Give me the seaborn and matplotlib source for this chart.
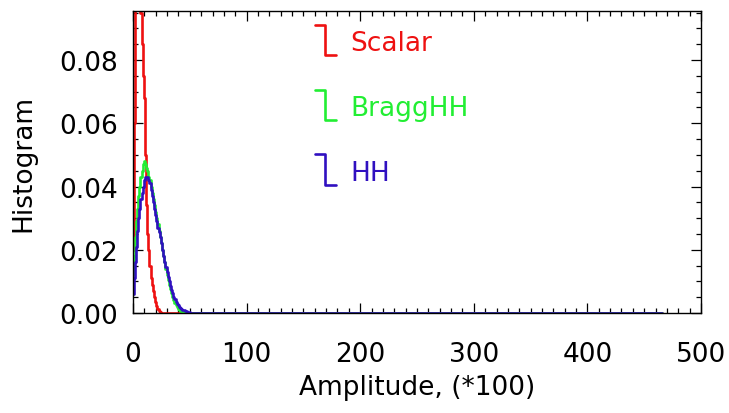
import numpy as np
import pandas as pd
import matplotlib
matplotlib.use("Agg")
import matplotlib.pyplot as plt
import seaborn as sns

# ---- data ----
x_scalar = [0, 1, 2, 3, 4, 5, 6, 7, 8, 9, 10, 11, 12, 13, 14, 15, 16, 17, 18, 19,
            20, 21, 22, 23, 24, 25, 466]
y_scalar = [0.02, 0.06, 0.10, 0.12, 0.125, 0.12, 0.105, 0.095, 0.085, 0.075, 0.068,
            0.05, 0.034, 0.025, 0.02, 0.015, 0.011, 0.009, 0.007, 0.005, 0.0035,
            0.0023, 0.0013, 0.0006, 0.0002, 0.0, 0.0]

x_bragg = [0, 1, 2, 3, 4, 5, 6, 7, 8, 9, 10, 11, 12, 13, 14, 15, 16, 17, 18, 19,
           20, 21, 22, 23, 24, 25, 26, 27, 28, 29, 30, 31, 32, 33, 34, 35, 36, 37,
           38, 39, 40, 41, 42, 43, 44, 45, 46, 47, 466]
y_bragg = [0.012, 0.018, 0.024, 0.029, 0.033, 0.037, 0.040, 0.043, 0.045, 0.047,
           0.048, 0.047, 0.046, 0.045, 0.043, 0.042, 0.040, 0.038, 0.036, 0.034,
           0.032, 0.030, 0.028, 0.026, 0.024, 0.022, 0.020, 0.018, 0.016, 0.014,
           0.012, 0.0105, 0.009, 0.0075, 0.0062, 0.005, 0.004, 0.0032, 0.0025,
           0.0019, 0.0014, 0.001, 0.0007, 0.0005, 0.0003, 0.0002, 0.0001, 0.0, 0.0]

x_hh = [0, 1, 2, 3, 4, 5, 6, 7, 8, 9, 10, 11, 12, 13, 14, 15, 16, 17, 18, 19,
        20, 21, 22, 23, 24, 25, 26, 27, 28, 29, 30, 31, 32, 33, 34, 35, 36, 37,
        38, 39, 40, 41, 42, 43, 44, 45, 46, 47, 48, 49, 50, 51, 52, 53, 54, 466]
y_hh = [0.006, 0.011, 0.016, 0.021, 0.026, 0.030, 0.033, 0.036, 0.038, 0.040,
        0.042, 0.043, 0.043, 0.043, 0.042, 0.041, 0.039, 0.037, 0.035, 0.033,
        0.031, 0.029, 0.027, 0.0255, 0.024, 0.022, 0.020, 0.018, 0.016, 0.0145,
        0.013, 0.0115, 0.010, 0.0085, 0.0072, 0.0062, 0.0052, 0.0043, 0.0036,
        0.003, 0.0025, 0.002, 0.0016, 0.0013, 0.001, 0.0008, 0.0006, 0.0005,
        0.0004, 0.0003, 0.0002, 0.00015, 0.0001, 0.00005, 0.0, 0.0]

labels = ["Scalar", "BraggHH", "HH"]
colors = ["#ee1111", "#22ee33", "#3010c0"]

x_ticks = [0, 100, 200, 300, 400, 500]
y_ticks = [0.00, 0.02, 0.04, 0.06, 0.08]

# ---- figure ----
sns.set_style("ticks")
plt.rcParams["font.family"] = ["DejaVu Sans"]
plt.rcParams["text.color"] = "black"
plt.rcParams["axes.labelcolor"] = "black"

fig = plt.figure(figsize=(7.29, 4.14), dpi=100)
ax = fig.add_axes([133 / 729, 1 - 314 / 414, (701 - 133) / 729, (314 - 12) / 414])

series = [(x_scalar, y_scalar), (x_bragg, y_bragg), (x_hh, y_hh)]
for (xs, ys), lab, col in zip(series, labels, colors):
    df = pd.DataFrame({"Amplitude": xs, "Histogram": ys})
    sns.lineplot(data=df, x="Amplitude", y="Histogram", ax=ax, color=col,
                 drawstyle="steps-mid", linewidth=1.9, estimator=None, sort=True,
                 clip_on=True)

ax.set_xlim(0, 500)
ax.set_ylim(0, 0.0955)
ax.set_xticks(x_ticks)
ax.set_yticks(y_ticks)
ax.set_xticklabels([str(v) for v in x_ticks])
ax.set_yticklabels([f"{v:.2f}" for v in y_ticks])
ax.set_xticks(np.arange(0, 501, 10), minor=True)
ax.set_yticks(np.arange(0, 0.0951, 0.005), minor=True)

ax.tick_params(axis="both", which="both", direction="in", top=True, right=True,
               colors="black", labelcolor="black", width=0.9)
ax.tick_params(axis="both", which="major", length=7, labelsize=19)
ax.tick_params(axis="both", which="minor", length=3.5)
ax.tick_params(axis="x", which="major", pad=20)
ax.tick_params(axis="y", which="major", pad=11)
for sp in ax.spines.values():
    sp.set_visible(True)
    sp.set_color("black")
    sp.set_linewidth(1.0)

ax.set_xlabel("Amplitude, (*100)", fontsize=19, labelpad=5, color="black")
ax.set_ylabel("Histogram", fontsize=19, labelpad=16, color="black")

# ---- legend drawn in IDL style (step glyph + coloured text) ----
leg_y = [0.90, 0.685, 0.47]
for ly, lab, col in zip(leg_y, labels, colors):
    gx0, gx1, gx2 = 0.321, 0.338, 0.357
    top, bot = ly + 0.055, ly - 0.045
    ax.plot([gx0, gx1, gx1, gx2], [top, top, bot, bot], color=col, lw=1.9,
            transform=ax.transAxes, clip_on=False)
    ax.text(0.383, ly - 0.005, lab, color=col, fontsize=19, transform=ax.transAxes,
            va="center", ha="left")

fig.savefig("out.png", dpi=100, facecolor="white")
